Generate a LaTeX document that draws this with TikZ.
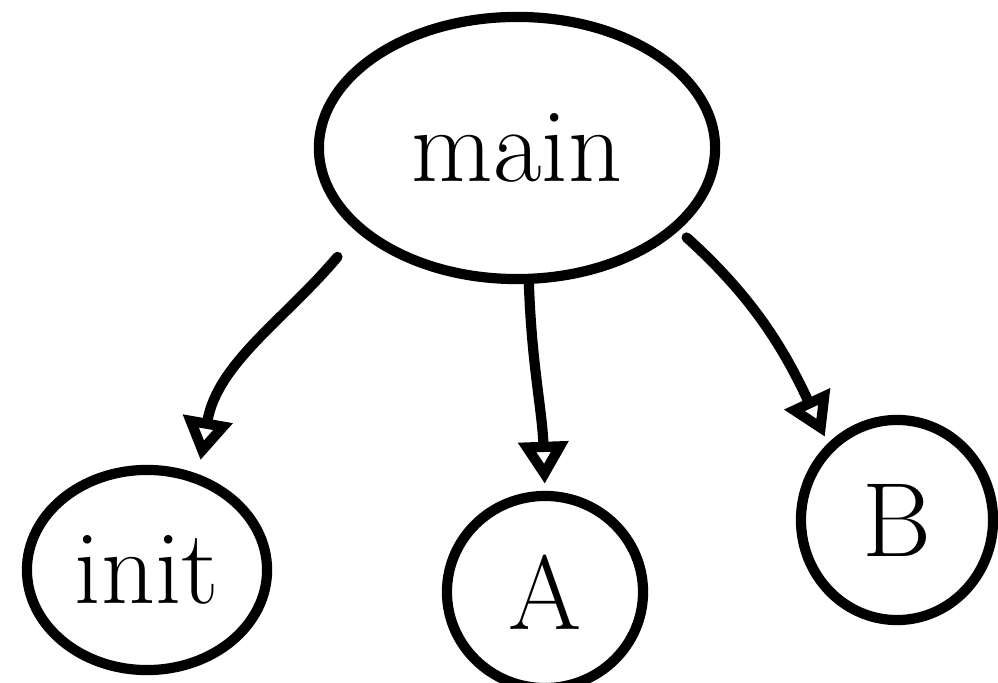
\documentclass[tikz,border=0pt]{standalone}
\usetikzlibrary{shapes.geometric,arrows.meta}
\begin{document}
\begin{tikzpicture}[x=0.01cm,y=-0.01cm,
  ink/.style={line width=2.9pt,line cap=round,line join=round},
  bubble/.style={ink,draw,ellipse,inner sep=0pt,font=\fontsize{30}{30}\selectfont},
  arr/.style={ink,-{Triangle[open,length=0.42cm,width=0.48cm,line width=2.9pt]}}]
\useasboundingbox[fill=white] (0,0) rectangle (998,683);
% states
\node[bubble,minimum width=3.96cm,minimum height=2.62cm] (main) at (517,148) {main};
\node[bubble,minimum width=2.40cm,minimum height=2.00cm] (init) at (147,570) {init};
\node[bubble,minimum width=1.96cm,minimum height=1.92cm] (A) at (545,592) {A};
\node[bubble,minimum width=1.92cm,minimum height=2.00cm] (B) at (897,520) {B};
% calls
\draw[arr,shorten <=9pt,shorten >=4pt] (main.208) to[out=-130,in=80] (init.62);
\draw[arr,shorten >=2pt] (main.-85) to[out=-88,in=92] (A.north);
\draw[arr,shorten <=3pt,shorten >=2pt] (main.-27) to[out=-42,in=115] (B.132);
\end{tikzpicture}
\end{document}
